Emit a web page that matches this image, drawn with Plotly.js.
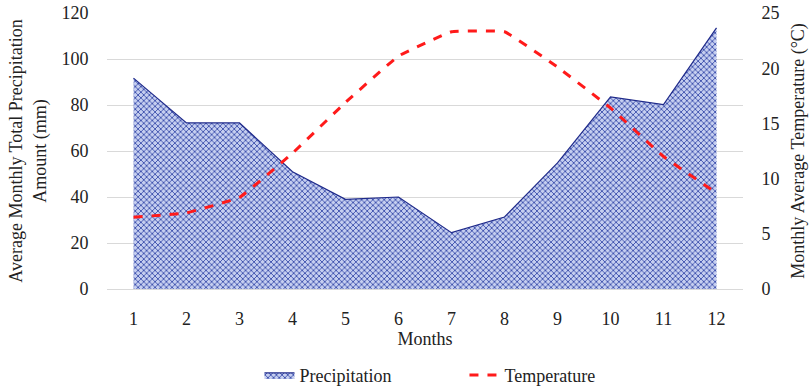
<!DOCTYPE html>
<html>
<head>
<meta charset="utf-8">
<script src="https://cdn.plot.ly/plotly-3.0.1.min.js"></script>
<style>html,body{margin:0;padding:0;background:#fff;}#chart{width:812px;height:390px;}</style>
</head>
<body>
<div id="chart"></div>
<script>
const months = [1,2,3,4,5,6,7,8,9,10,11,12];
const precipitation = [91.7, 72.2, 72.2, 51, 39, 40, 24.5, 31.3, 54.8, 83.5, 80.2, 113.5];
const temperature = [6.5, 6.9, 8.3, 12.3, 16.9, 21.1, 23.3, 23.3, 20.1, 16.4, 12.0, 8.7];
const leftTicks = [0,20,40,60,80,100,120];
const rightTicks = [0,5,10,15,20,25];

const fam = 'Liberation Serif, DejaVu Serif, serif';
const font = {family: fam, size: 18, color: '#222'};

const traces = [
  {
    x: months, y: precipitation, name: 'Precipitation', type: 'scatter', mode: 'lines',
    fill: 'tozeroy',
    line: {color: '#1f2a8a', width: 1.2},
    fillcolor: '#8e9dd6',
    fillpattern: {shape: 'x', size: 4, fgcolor: '#3347a8', bgcolor: '#c6cff0', solidity: 0.38},
    xaxis: 'x', yaxis: 'y'
  },
  {
    x: months, y: temperature, name: 'Temperature', type: 'scatter', mode: 'lines',
    line: {color: '#ff1a1a', width: 3, dash: 'dash', shape: 'spline', smoothing: 0.25},
    xaxis: 'x', yaxis: 'y2'
  }
];

const layout = {
  width: 812, height: 390,
  margin: {l: 107, r: 69, t: 13, b: 101, autoexpand: false},
  paper_bgcolor: '#fff', plot_bgcolor: '#fff',
  font: font,
  showlegend: true,
  legend: {orientation: 'h', x: 0.572, xanchor: 'center', xref: 'container', y: 0.038, yref: 'container', yanchor: 'middle',
           font: font, entrywidth: 160, entrywidthmode: 'pixels', traceorder: 'normal'},
  xaxis: {
    range: [0.5, 12.5], tickvals: months, ticktext: months.map(String),
    showgrid: false, zeroline: false, showline: true, linecolor: '#d9d9d9', linewidth: 1,
    ticks: 'outside', ticklen: 13, tickcolor: 'rgba(0,0,0,0)',
    tickfont: font,
    automargin: false,
    title: {text: 'Months', font: font, standoff: 4}
  },
  yaxis: {
    range: [0, 120], tickvals: leftTicks, showgrid: true, gridcolor: '#d9d9d9', gridwidth: 1,
    zeroline: false, showline: false, ticks: 'outside', ticklen: 14, tickcolor: 'rgba(0,0,0,0)',
    tickfont: font, automargin: false,
    title: {text: 'Average Monthly Total Precipitation<br>Amount (mm)', font: font, standoff: 10}
  },
  yaxis2: {
    range: [0, 25], tickvals: rightTicks, overlaying: 'y', side: 'right',
    showgrid: false, zeroline: false, showline: false, ticks: 'outside', ticklen: 14, tickcolor: 'rgba(0,0,0,0)',
    tickfont: font, automargin: false,
    title: {text: 'Monthly Average Temperature (°C)', font: font, standoff: 12}
  }
};

Plotly.newPlot('chart', traces, layout, {displayModeBar: false, staticPlot: true});
</script>
</body>
</html>
